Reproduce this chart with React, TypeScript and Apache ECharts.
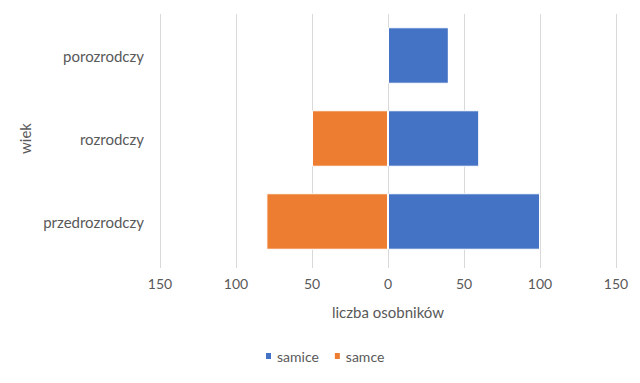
import React, { useEffect, useRef } from "react";
import * as echarts from "echarts";

const categories = ["przedrozrodczy", "rozrodczy", "porozrodczy"];
const samice = [100, 60, 40];
const samce = [80, 50, 0];
const tickMin = -150;
const tickMax = 150;
const tickStep = 50;

export default function App() {
  const ref = useRef<HTMLDivElement>(null);
  useEffect(() => {
    if (!ref.current) return;
    const chart = echarts.init(ref.current, null, { renderer: "svg" });
    const font = "Lato, 'Open Sans', sans-serif";
    chart.setOption({
      animation: false,
      textStyle: { fontFamily: font },
      grid: { left: 152, right: 16, top: 6, bottom: 112 },
      legend: {
        bottom: 7,
        left: 251,
        icon: "rect",
        itemWidth: 7,
        itemHeight: 8,
        itemGap: 14,
        textStyle: { color: "#595959", fontSize: 14, fontFamily: font },
        data: ["samice", "samce"],
      },
      xAxis: {
        type: "value",
        min: tickMin,
        max: tickMax,
        interval: tickStep,
        name: "liczba osobników",
        nameLocation: "middle",
        nameGap: 41,
        nameTextStyle: { color: "#595959", fontSize: 15, fontFamily: font },
        axisLabel: {
          color: "#595959",
          fontSize: 14,
          margin: 13,
          formatter: (v: number) => String(Math.abs(v)),
        },
        axisLine: { show: false },
        axisTick: { show: true, length: 5, lineStyle: { color: "#d9d9d9" } },
        splitLine: { show: true, lineStyle: { color: "#d9d9d9", width: 1 } },
      },
      yAxis: {
        type: "category",
        data: categories,
        name: "wiek",
        nameLocation: "middle",
        nameRotate: 90,
        nameGap: 126,
        nameTextStyle: { color: "#595959", fontSize: 15, fontFamily: font },
        axisLabel: { color: "#595959", fontSize: 15, margin: 16 },
        axisLine: { show: false },
        axisTick: { show: false },
        splitLine: { show: false },
      },
      series: [
        {
          name: "samice",
          type: "bar",
          stack: "total",
          barCategoryGap: "32%",
          data: samice,
          itemStyle: { color: "#4472C4", borderColor: "#ffffff", borderWidth: 1 },
        },
        {
          name: "samce",
          type: "bar",
          stack: "total",
          barCategoryGap: "32%",
          data: samce.map((v) => -v),
          itemStyle: { color: "#ED7D31", borderColor: "#ffffff", borderWidth: 1 },
        },
      ],
    });
    return () => chart.dispose();
  }, []);
  return <div ref={ref} style={{ width: 624, height: 367 }} />;
}
